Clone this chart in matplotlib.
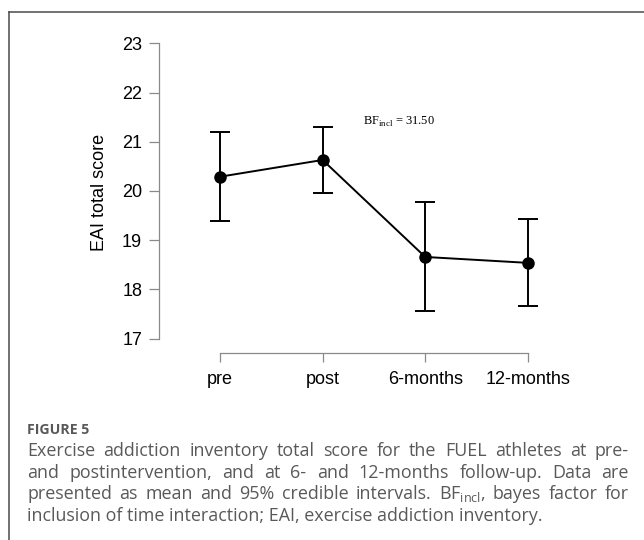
import matplotlib
matplotlib.use("Agg")
import matplotlib.pyplot as plt
from matplotlib.lines import Line2D

# ---------------- data ----------------
timepoints = ["pre", "post", "6-months", "12-months"]
means = [20.29, 20.63, 18.66, 18.54]
lower = [19.39, 19.95, 17.56, 17.66]
upper = [21.20, 21.30, 19.78, 19.43]
y_ticks = [17, 18, 19, 20, 21, 22, 23]
y_label = "EAI total score"
bf_label = r"BF$_{\mathregular{incl}}$ = 31.50"
caption_title = "FIGURE 5"
caption_lines = [
    "Exercise addiction inventory total score for the FUEL athletes at pre-",
    "and postintervention, and at 6- and 12-months follow-up. Data are",
    r"presented as mean and 95% credible intervals. BF$_{\mathregular{incl}}$, bayes factor for",
    "inclusion of time interaction; EAI, exercise addiction inventory.",
]

# ---------------- figure ----------------
W, H = 644, 540
fig = plt.figure(figsize=(W / 100, H / 100), dpi=100)
fig.patch.set_facecolor("white")

def fx(px):
    return px / W

def fy(py):
    return 1 - py / H

# axes placement (pixel coordinates measured from top-left)
ax_left, ax_right = 159.3, 560.0
ax_top, ax_bottom = 43.3, 352.7
ax = fig.add_axes([fx(ax_left), fy(ax_bottom), (ax_right - ax_left) / W, (ax_bottom - ax_top) / H])

x = list(range(len(timepoints)))
yerr = [[m - l for m, l in zip(means, lower)], [u - m for m, u in zip(means, upper)]]
ax.errorbar(x, means, yerr=yerr, fmt="-o", color="black", lw=1.4, ms=8,
            capsize=7.4, capthick=1.4, elinewidth=1.4, zorder=3)

ax.set_xlim(-0.592, 3.314)
ax.set_ylim(16.715, 23)
ax.set_xticks(x)
ax.set_xticklabels(timepoints)
ax.set_yticks(y_ticks)
ax.set_yticklabels([str(v) for v in y_ticks])

axis_gray = "#8a8a8a"
for s in ["top", "right"]:
    ax.spines[s].set_visible(False)
ax.spines["left"].set_bounds(17, 23)
ax.spines["bottom"].set_bounds(0, 3)
for s in ["left", "bottom"]:
    ax.spines[s].set_color(axis_gray)
    ax.spines[s].set_linewidth(0.9)

ax.tick_params(axis="both", direction="out", color=axis_gray, width=0.9,
               labelcolor="black")
ax.tick_params(axis="y", length=7, pad=5.3)
ax.tick_params(axis="x", length=6.7, pad=6.5)
for lab in ax.get_xticklabels() + ax.get_yticklabels():
    lab.set_fontfamily("Liberation Sans")
    lab.set_fontsize(13)

ax.set_ylabel(y_label, fontfamily="Liberation Sans", fontsize=13, va="center")
ax.yaxis.set_label_coords((100 - ax_left) / (ax_right - ax_left),
                          (ax_bottom - 192) / (ax_bottom - ax_top))

ax.text(1.394, 21.34, bf_label, fontfamily="Liberation Serif", fontsize=9,
        ha="left", va="baseline", color="black")

# ---------------- frame ----------------
frame_col = "#4a4a4a"
fig.add_artist(Line2D([fx(9), 1.0], [fy(12), fy(12)], transform=fig.transFigure,
                      color=frame_col, lw=1.1))
fig.add_artist(Line2D([fx(9), fx(9)], [0.0, fy(12)], transform=fig.transFigure,
                      color=frame_col, lw=1.1))

# ---------------- caption ----------------
cap_col = "#595959"
fig.text(fx(27), fy(434), caption_title, fontfamily="Open Sans", fontweight="bold",
         fontsize=10.2, color=cap_col, ha="left", va="baseline")

renderer = fig.canvas.get_renderer()
cap_x0, cap_x1 = 27.0, 629.0
baselines = [456.0, 477.7, 499.4, 521.0]
cap_kw = dict(fontfamily="Open Sans", fontsize=12.9, color=cap_col, ha="left", va="baseline")

for i, (line, yb) in enumerate(zip(caption_lines, baselines)):
    words = line.split(" ")
    justify = i < len(caption_lines) - 1
    if not justify:
        fig.text(fx(cap_x0), fy(yb), line, **cap_kw)
        continue
    texts = [fig.text(0, fy(yb), w, **cap_kw) for w in words]
    widths = [t.get_window_extent(renderer).width for t in texts]
    gap = (cap_x1 - cap_x0 - sum(widths)) / (len(words) - 1)
    xp = cap_x0
    for t, w in zip(texts, widths):
        t.set_x(fx(xp))
        xp += w + gap

fig.savefig("out.png", dpi=100)
